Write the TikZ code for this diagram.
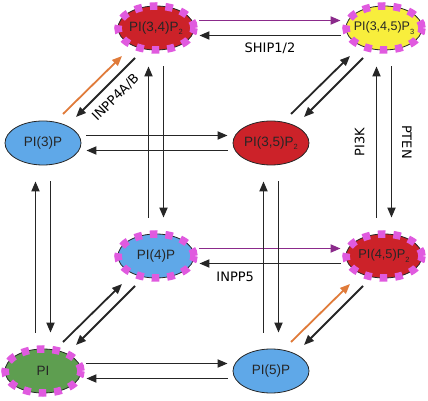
\documentclass[tikz,border=0pt]{standalone}
\usepackage{fontspec}
\setmainfont{Liberation Sans}
\newfontfamily\lblfont{DejaVu Sans}
\usetikzlibrary{arrows.meta,positioning,shapes.geometric}

\definecolor{pipblue}{HTML}{5FA8E8}
\definecolor{pipred}{HTML}{CC2229}
\definecolor{pipyellow}{HTML}{F8EE3C}
\definecolor{pipgreen}{HTML}{5E9E50}
\definecolor{pippink}{HTML}{E05ADF}
\definecolor{pippurple}{HTML}{8B2A8B}
\definecolor{piporange}{HTML}{E07B3A}
\definecolor{pipline}{HTML}{262626}

\newcommand{\psub}[1]{\raisebox{-3.5pt}{\fontsize{7.5}{8}\selectfont #1}}

\tikzset{
  lipid/.style={ellipse, draw=pipline, line width=0.8pt, minimum width=76pt, minimum height=44pt,
    inner xsep=-10pt, inner ysep=0pt, text=pipline, font=\fontsize{13.5}{15}\selectfont},
  marked/.style={postaction={draw=pippink, line width=7.5pt, dash pattern=on 7.5pt off 8pt}},
  conv/.style={color=pipline, line width=1.8pt, -{Triangle[length=10pt,width=8pt]}},
  hor/.style={conv, shorten <=5pt, shorten >=5pt},
  ver/.style={conv, shorten <=16pt, shorten >=16pt},
  enz/.style={font=\lblfont\fontsize{13}{15}\selectfont, text=black, inner sep=0pt}
}

\begin{document}
\begin{tikzpicture}[x=1pt, y=1pt, node distance=228pt, on grid]
  \useasboundingbox (0,0) rectangle (428,401);

  % front face
  \node[lipid, fill=pipblue] (p3) at (43,258) {PI(3)P};
  \node[lipid, fill=pipred] (p35) [right=of p3] {PI(3,5)P\psub{2}};
  \node[lipid, marked, fill=pipgreen] (pi) [below=of p3] {PI};
  \node[lipid, fill=pipblue] (p5) [right=of pi] {PI(5)P};

  % back face
  \node[lipid, marked, fill=pipred] (p34) [above right=115pt and 113pt of p3] {PI(3,4)P\psub{2}};
  \node[lipid, marked, fill=pipyellow, font=\fontsize{12.5}{14}\selectfont] (p345) [right=of p34] {PI(3,4,5)P\psub{3}};
  \node[lipid, marked, fill=pipblue] (p4) [below=of p34] {PI(4)P};
  \node[lipid, marked, fill=pipred, font=\fontsize{12.8}{14}\selectfont] (p45) [right=of p4] {PI(4,5)P\psub{2}};

  % horizontal pairs
  \path[hor]
    ([yshift=7.5pt]p3.east) edge ([yshift=7.5pt]p35.west)
    ([yshift=-7.5pt]p35.west) edge ([yshift=-7.5pt]p3.east)
    ([yshift=7.5pt]pi.east) edge ([yshift=7.5pt]p5.west)
    ([yshift=-7.5pt]p5.west) edge ([yshift=-7.5pt]pi.east)
    ([yshift=-7.5pt]p345.west) edge node[enz, below, outer sep=7.5pt] {SHIP1/2} ([yshift=-7.5pt]p34.east)
    ([yshift=-7.5pt]p45.west) edge node[enz, below, pos=0.73, outer sep=9pt] {INPP5} ([yshift=-7.5pt]p4.east);
  \path[hor, color=pippurple]
    ([yshift=7.5pt]p34.east) edge ([yshift=7.5pt]p345.west)
    ([yshift=7.5pt]p4.east) edge ([yshift=7.5pt]p45.west);

  % vertical pairs
  \path[ver]
    ([xshift=-7.5pt]pi.north) edge ([xshift=-7.5pt]p3.south)
    ([xshift=7.5pt]p3.south) edge ([xshift=7.5pt]pi.north)
    ([xshift=-7.5pt]p5.north) edge ([xshift=-7.5pt]p35.south)
    ([xshift=7.5pt]p35.south) edge ([xshift=7.5pt]p5.north)
    ([xshift=-7.5pt]p4.north) edge ([xshift=-7.5pt]p34.south)
    ([xshift=7.5pt]p34.south) edge ([xshift=7.5pt]p4.north)
    ([xshift=-7.5pt]p45.north) edge node[enz, sloped, above, outer sep=12pt] {PI3K} ([xshift=-7.5pt]p345.south)
    ([xshift=7.5pt]p345.south) edge node[enz, sloped, above, outer sep=10.5pt] {PTEN} ([xshift=7.5pt]p45.north);

  % diagonal pairs
  \path[conv, color=piporange]
    ([xshift=20pt,yshift=29pt]p3.center) edge ([xshift=-34pt,yshift=-28pt]p34.center)
    ([xshift=20pt,yshift=29pt]p5.center) edge ([xshift=-34pt,yshift=-28pt]p45.center);
  \path[conv]
    ([xshift=20pt,yshift=29pt]p35.center) edge ([xshift=-34pt,yshift=-28pt]p345.center)
    ([xshift=20pt,yshift=29pt]pi.center) edge ([xshift=-34pt,yshift=-28pt]p4.center)
    ([xshift=-21pt,yshift=-30pt]p34.center) edge node[enz, sloped, below, outer sep=9pt] {INPP4A/B} ([xshift=33pt,yshift=26pt]p3.center)
    ([xshift=-21pt,yshift=-30pt]p345.center) edge ([xshift=33pt,yshift=26pt]p35.center)
    ([xshift=-21pt,yshift=-30pt]p4.center) edge ([xshift=33pt,yshift=26pt]pi.center)
    ([xshift=-21pt,yshift=-30pt]p45.center) edge ([xshift=33pt,yshift=26pt]p5.center);
\end{tikzpicture}
\end{document}
